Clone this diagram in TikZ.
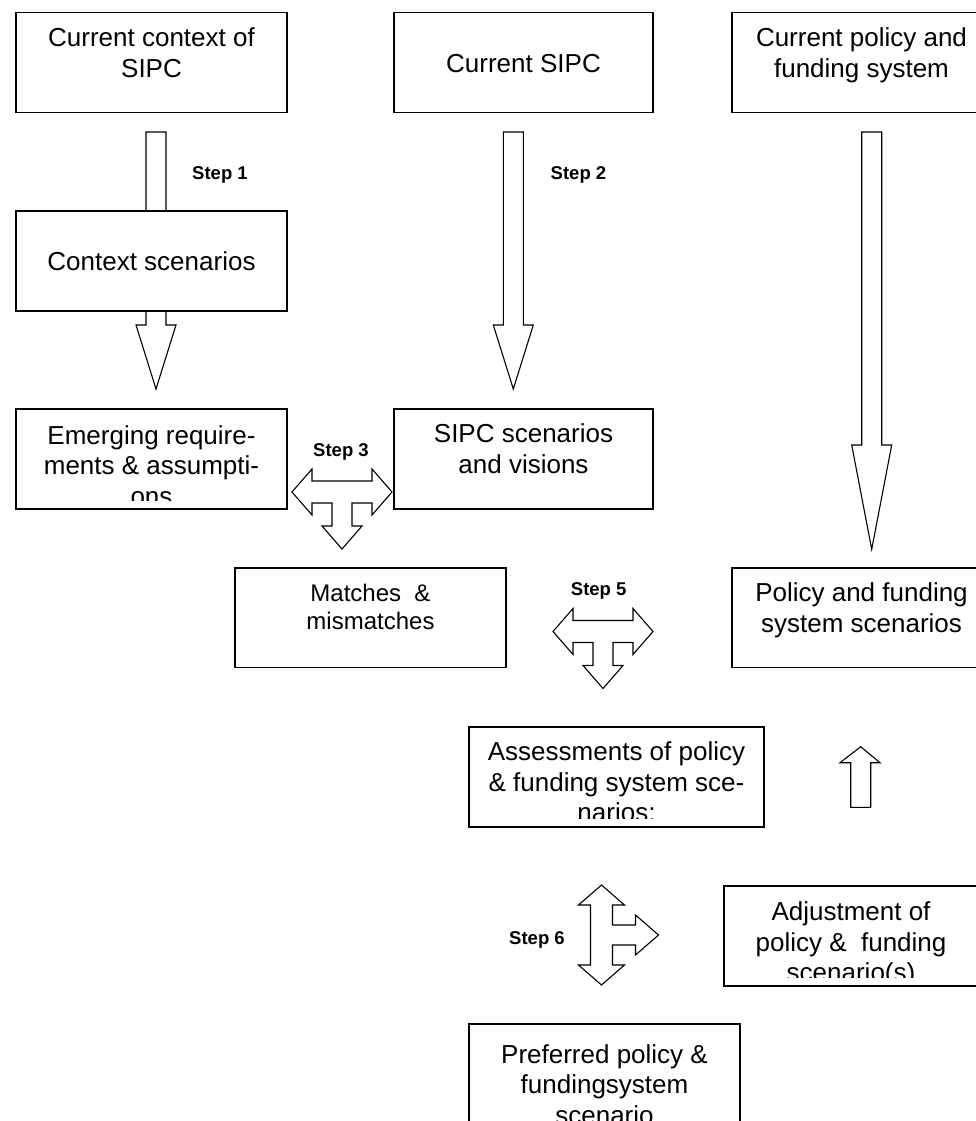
\documentclass[tikz,border=0pt]{standalone}
\usepackage{fontspec}
\setmainfont{Liberation Sans}
\begin{document}
\begin{tikzpicture}[x=1pt,y=-1pt,
  box/.style={draw, fill=white, line width=1.1pt, rectangle, inner sep=0pt},
  txt/.style={align=center, inner sep=0pt, anchor=base, font=\fontsize{26}{30.5}\selectfont},
  txtsm/.style={txt, font=\fontsize{24}{27.6}\selectfont},
  steplbl/.style={font=\bfseries\fontsize{18.5}{22}\selectfont, inner sep=0pt, anchor=base},
  blockarrow/.style={draw, fill=white, line width=1.1pt, line join=miter},
  tarrow/.pic={\path[blockarrow] (-50,0) -- (-30,-23) -- (-30,-11) -- (30,-11) -- (30,-23) -- (50,0) -- (30,23) -- (30,11) -- (10,11) -- (10,34) -- (20,34) -- (0,57) -- (-20,34) -- (-10,34) -- (-10,11) -- (-30,11) -- (-30,23) -- cycle;}
]
\useasboundingbox (0,0) rectangle (976,1121);
\clip (0,0) rectangle (976,1121);

% straight block arrows (drawn first, boxes cover them)
\path[blockarrow] (146,132) -- (166,132) -- (166,325) -- (176,325) -- (156,389) -- (136,325) -- (146,325) -- cycle;
\path[blockarrow] (503.3,132) -- (523.3,132) -- (523.3,325) -- (533.3,325) -- (513.3,389) -- (493.3,325) -- (503.3,325) -- cycle;
\path[blockarrow] (861.7,132) -- (881.7,132) -- (881.7,445) -- (891.7,445) -- (871.7,549.3) -- (851.7,445) -- (861.7,445) -- cycle;
\path[blockarrow] (850.7,807.3) -- (870.7,807.3) -- (870.7,762.7) -- (880,762.7) -- (860.7,746.7) -- (840,762.7) -- (850.7,762.7) -- cycle;

% boxes
\node[box, minimum width=271pt, minimum height=99.5pt] (b1) at (151.5,62.5) {};
\node[box, minimum width=259pt, minimum height=99.5pt] (b2) at (523.5,62.5) {};
\node[box, minimum width=259pt, minimum height=99.5pt] (b3) at (861.5,62.5) {};
\node[box, minimum width=271pt, minimum height=100pt] (b4) at (151.5,261) {};
\node[box, minimum width=271pt, minimum height=100pt] (b5) at (151.5,459) {};
\node[box, minimum width=259pt, minimum height=100pt] (b6) at (523.5,459) {};
\node[box, minimum width=271pt, minimum height=99.3pt] (b7) at (370.5,617.6) {};
\node[box, minimum width=259pt, minimum height=99.3pt] (b8) at (861.5,617.6) {};
\node[box, minimum width=295pt, minimum height=100pt] (b9) at (616.5,777) {};
\node[box, minimum width=254pt, minimum height=100pt] (b10) at (851,936) {};
\node[box, minimum width=271pt, minimum height=100pt] (b11) at (604.5,1074) {};

% texts (clipped to box interiors); anchor=base is the baseline of the last line
\begin{scope}\clip (18,15) rectangle (285,103);
\node[txt] (t1) at (151.5,77.2) {Current context of\\SIPC};\end{scope}
\begin{scope}\clip (396,15) rectangle (651,103);
\node[txt] (t2) at (523.5,72.7) {Current SIPC};\end{scope}
\begin{scope}\clip (734,15) rectangle (989,103);
\node[txt] (t3) at (861.5,77.2) {Current policy and\\funding system};\end{scope}
\begin{scope}\clip (18,213) rectangle (285,302);
\node[txt] (t4) at (151.5,270.7) {Context scenarios};\end{scope}
\begin{scope}\clip (18,411) rectangle (285,500);
\node[txt] (t5) at (151.5,505) {Emerging require-\\ments \& assumpti-\\ons};\end{scope}
\begin{scope}\clip (396,411) rectangle (651,500);
\node[txt] (t6) at (523.5,473.2) {SIPC scenarios\\and visions};\end{scope}
\begin{scope}\clip (237,570) rectangle (504,658);
\node[txtsm] (t7) at (370.5,629.3) {Matches~ \&\\mismatches};\end{scope}
\begin{scope}\clip (734,570) rectangle (989,658);
\node[txt] (t8) at (861.5,632.2) {Policy and funding\\system scenarios};\end{scope}
\begin{scope}\clip (471,729) rectangle (762,818);
\node[txt] (t9) at (616.5,821.7) {Assessments of policy\\\& funding system sce-\\narios:};\end{scope}
\begin{scope}\clip (726,888) rectangle (976,977);
\node[txt] (t10) at (851,981.7) {Adjustment of\\policy \&~ funding\\scenario(s)};\end{scope}
\begin{scope}\clip (471,1026) rectangle (738,1121);
\node[txt] (t11) at (604.5,1124) {Preferred policy \&\\fundingsystem\\scenario};\end{scope}

% T-shaped block arrows
\pic (s3) at (342,492) {tarrow};
\pic (s5) at (603,631.5) {tarrow};
\pic[rotate=90] (s6) at (601.5,935) {tarrow};

% step labels
\node[steplbl] (l1) at (220,179) {Step 1};
\node[steplbl] (l2) at (578.5,179) {Step 2};
\node[steplbl] (l3) at (341,456.7) {Step 3};
\node[steplbl] (l5) at (598.7,595) {Step 5};
\node[steplbl] (l6) at (537,944.5) {Step 6};
\end{tikzpicture}
\end{document}
